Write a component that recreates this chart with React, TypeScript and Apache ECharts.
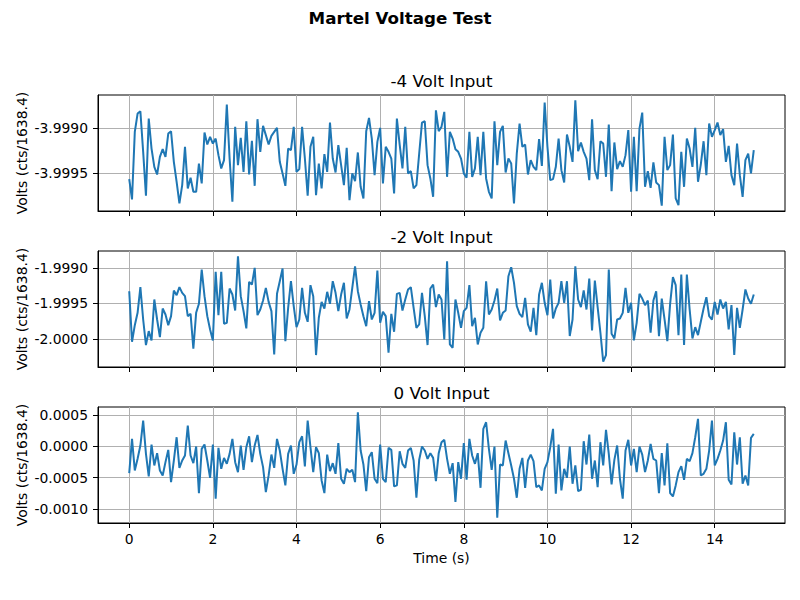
import React, { useEffect, useRef } from "react";
import * as echarts from "echarts";

const SAMPLE_RATE = 15; // samples per second

const volt4 = [
  -3.999571,-3.999799,-3.999041,-3.998836,-3.998810,-3.999265,-3.999757,-3.998892,-3.999228,-3.999433,
  -3.999519,-3.999321,-3.999235,-3.999321,-3.999060,-3.999034,-3.999377,-3.999601,-3.999843,-3.999638,
  -3.999209,-3.999675,-3.999556,-3.999713,-3.999713,-3.999396,-3.999619,-3.999049,-3.999183,-3.999097,
  -3.999172,-3.999116,-3.999302,-3.999451,-3.999358,-3.998735,-3.999340,-3.999825,-3.998985,-3.999414,
  -3.999108,-3.999489,-3.998922,-3.999519,-3.999142,-3.999646,-3.998899,-3.999265,-3.998974,-3.999078,
  -3.999183,-3.999086,-3.999041,-3.998996,-3.999377,-3.999507,-3.999646,-3.999228,-3.999246,-3.998985,
  -3.999489,-3.999459,-3.998985,-3.999340,-3.999757,-3.999209,-3.999097,-3.999750,-3.999396,-3.999675,
  -3.999291,-3.999489,-3.998937,-3.999340,-3.999496,-3.999190,
  -3.999414,-3.999638,-3.999220,-3.999806,-3.999507,-3.999593,-3.999272,-3.999657,-3.999787,-3.999034,
  -3.998884,-3.999116,-3.999526,-3.999153,-3.998996,-3.999619,-3.999209,-3.999265,-3.999340,-3.999731,
  -3.998892,-3.999183,-3.999451,-3.998985,-3.999507,-3.999481,-3.999675,-3.999638,-3.999284,-3.998937,
  -3.998922,-3.999414,-3.999563,-3.999769,-3.998799,-3.999034,-3.998985,-3.998817,-3.999545,-3.999041,
  -3.999116,-3.999235,-3.999265,-3.999340,-3.999507,-3.999556,-3.999041,-3.999545,-3.999451,-3.999097,
  -3.999526,-3.999041,-3.999563,-3.999713,-3.999787,-3.998922,-3.999414,-3.999041,-3.998974,-3.999496,
  -3.999340,-3.999396,-3.999843,-3.999284,-3.998948,-3.999209,-3.999183,-3.999519,-3.999358,-3.999433,
  -3.999470,-3.999123,-3.999422,-3.998713,-3.999209,-3.999582,-3.999571,-3.999433,-3.999116,
  -3.999470,-3.999608,-3.999071,-3.999209,-3.999377,-3.998687,-3.999257,-3.999160,-3.999265,-3.999340,
  -3.999582,-3.998899,-3.999470,-3.999571,-3.999146,-3.999172,-3.999545,-3.998959,-3.999705,-3.999160,
  -3.999459,-3.999369,-3.999433,-3.999302,-3.999022,-3.999713,-3.999097,-3.999705,-3.999004,-3.998825,
  -3.999657,-3.999481,-3.999668,-3.999384,-3.999608,-3.999638,-3.999869,-3.999097,-3.999470,-3.999414,
  -3.999071,-3.999787,-3.999862,-3.999265,-3.999657,-3.999116,-3.999228,-3.999433,-3.998996,-3.999601,
  -3.999407,-3.999146,-3.999526,-3.998948,-3.999097,-3.999022,-3.998937,-3.999078,-3.999011,-3.999377,
  -3.999198,-3.999526,-3.999638,-3.999172,-3.999526,-3.999769,-3.999358,-3.999284,-3.999507,-3.999246,
];

const volt2 = [
  -1.999329,-2.000042,-1.999808,-1.999634,-1.999272,-1.999728,-2.000089,-1.999892,-2.000023,-1.999446,
  -1.999728,-1.999977,-1.999573,-1.999657,-1.999808,-1.999681,-1.999319,-1.999385,-1.999272,-1.999352,
  -1.999399,-1.999681,-1.999648,-2.000141,-1.999634,-1.999507,-1.999023,-1.999399,-1.999681,-1.999869,
  -2.000023,-1.999056,-1.999667,-1.999056,-1.999789,-1.999775,-1.999291,-1.999376,-1.999601,-1.998836,
  -1.999399,-1.999610,-1.999854,-1.999197,-1.999235,-1.999000,-1.999667,-1.999587,-1.999460,-1.999282,
  -1.999479,-1.999610,-2.000221,-1.999366,-1.999188,-1.999009,-2.000033,-1.999563,-1.999188,-1.999540,
  -1.999836,-1.999728,-1.999282,-1.999634,-1.999761,-1.999244,-1.999399,-2.000230,-1.999704,-1.999479,
  -1.999573,-1.999338,-1.999507,-1.999188,-1.999352,-1.999610,
  -1.999376,-1.999211,-1.999714,-1.999587,-1.999282,-1.998977,-1.999329,-1.999516,-1.999681,-1.999822,
  -1.999469,-1.999728,-1.999634,-1.999038,-1.999775,-1.999620,-1.999681,-2.000197,-1.999648,-1.999901,
  -1.999366,-1.999352,-1.999601,-1.999446,-1.999305,-1.999272,-1.999563,-1.999845,-1.999798,-1.999352,
  -1.999681,-2.000089,-1.999291,-1.999235,-1.999554,-1.999376,-1.999446,-2.000009,-1.998906,-2.000080,
  -2.000127,-1.999446,-1.999634,-1.999845,-1.999610,-1.999563,-1.999244,-1.999822,-1.999704,-2.000080,
  -1.999915,-1.999845,-1.999188,-1.999657,-1.999587,-1.999460,-1.999291,-1.999742,-1.999634,-1.999601,
  -1.999117,-1.998991,-1.999211,-1.999540,-1.999648,-1.999695,-1.999423,-1.999798,-1.999901,-1.999563,
  -1.999948,-1.999376,-1.999211,-1.999493,-1.999667,-1.999164,-1.999714,-1.999573,-1.999493,
  -1.999188,-1.999493,-1.999188,-1.999962,-1.999728,-1.998977,-1.999446,-1.999554,-1.999319,-1.999587,
  -1.999150,-1.999883,-1.999178,-1.999554,-1.999915,-2.000324,-2.000230,-1.999023,-1.999930,-1.999995,
  -1.999728,-1.999714,-1.999634,-1.999282,-1.999634,-1.999493,-2.000023,-1.999775,-1.999366,-1.999432,
  -1.999526,-1.999460,-1.999915,-1.999460,-1.999329,-1.999962,-1.999432,-1.999728,-2.000033,-1.999507,
  -1.999131,-1.999244,-1.999948,-1.999094,-2.000089,-1.999094,-1.999587,-1.999995,-1.999836,-1.999948,
  -1.999761,-1.999573,-1.999413,-1.999681,-1.999728,-1.999479,-1.999657,-1.999446,-1.999573,-1.999479,
  -1.999869,-1.999526,-2.000230,-1.999563,-1.999845,-1.999587,-1.999305,-1.999432,-1.999507,-1.999376,
];

const volt0 = [
  -0.000429,0.000117,-0.000387,-0.000201,0.000011,0.000408,-0.000122,-0.000482,0.000027,-0.000307,
  -0.000111,-0.000387,-0.000466,-0.000254,-0.000058,-0.000572,-0.000228,0.000143,-0.000345,-0.000228,
  -0.000148,0.000329,-0.000148,-0.000270,-0.000005,-0.000747,-0.000042,0.000027,-0.000228,-0.000504,
  0.000027,-0.000837,-0.000027,-0.000360,-0.000186,-0.000281,-0.000122,0.000117,-0.000254,-0.000413,
  0.000011,-0.000376,-0.000016,0.000159,-0.000254,0.000011,0.000180,-0.000122,-0.000334,-0.000731,
  -0.000466,-0.000133,-0.000345,0.000117,-0.000069,-0.000360,-0.000625,-0.000122,0.000011,-0.000440,
  -0.000292,0.000064,0.000159,-0.000323,0.000408,-0.000016,-0.000413,-0.000016,-0.000111,-0.000546,
  -0.000747,-0.000133,-0.000398,-0.000270,-0.000440,0.000048,
  -0.000519,-0.000599,-0.000360,-0.000413,-0.000376,-0.000572,0.000541,-0.000069,-0.000292,-0.000716,
  -0.000175,-0.000095,-0.000519,-0.000588,0.000027,-0.000519,-0.000572,-0.000027,-0.000058,-0.000641,
  -0.000625,-0.000080,-0.000281,-0.000345,-0.000069,-0.000027,-0.000228,-0.000822,-0.000217,-0.000005,
  -0.000069,-0.000201,-0.000111,-0.000186,-0.000557,-0.000111,0.000064,0.000101,-0.000201,-0.000440,
  -0.000270,-0.000890,-0.000254,-0.000519,0.000048,-0.000535,0.000117,-0.000148,-0.000281,-0.000111,
  -0.000663,0.000276,0.000382,-0.000042,-0.000376,-0.000005,-0.001140,-0.000292,-0.000307,0.000090,
  -0.000111,-0.000307,-0.000519,-0.000822,-0.000360,-0.000186,-0.000663,-0.000228,-0.000133,-0.000239,
  -0.000652,-0.000625,-0.000705,-0.000360,-0.000254,-0.000016,0.000276,-0.000758,0.000027,
  -0.000705,-0.000360,-0.000504,-0.000005,-0.000599,-0.000307,-0.000716,-0.000694,0.000080,-0.000292,
  0.000186,-0.000519,-0.000228,-0.000652,0.000064,-0.000307,0.000260,-0.000122,-0.000610,-0.000217,
  0.000011,-0.000519,-0.000837,-0.000069,0.000101,-0.000307,-0.000042,-0.000413,-0.000005,-0.000133,
  -0.000413,-0.000228,0.000037,-0.000201,-0.000228,-0.000747,-0.000111,-0.000625,0.000048,-0.000747,
  -0.000800,-0.000625,-0.000413,-0.000318,-0.000535,-0.000201,-0.000239,-0.000111,0.000143,0.000435,
  -0.000466,-0.000440,-0.000360,-0.000069,0.000408,-0.000307,-0.000201,-0.000069,0.000090,0.000382,
  -0.000535,-0.000610,0.000223,-0.000292,0.000143,-0.000599,-0.000466,-0.000625,0.000133,0.000196,
];

const figureTitle = "Martel Voltage Test";
const panelTitles = ["-4 Volt Input", "-2 Volt Input", "0 Volt Input"];
const yAxisTitle = "Volts (cts/1638.4)";
const xAxisTitle = "Time (s)";
const xTicks = [0, 2, 4, 6, 8, 10, 12, 14];
const yTicks4 = [-3.9995, -3.999];
const yTicks2 = [-2.0, -1.9995, -1.999];
const yTicks0 = [-0.001, -0.0005, 0, 0.0005];

const FONT = "DejaVu Sans";
const LEFT = 98;
const WIDTH = 687;
const HEIGHT = 116;
const TOPS = [95, 251, 407];

function paddedRange(vals: number[], frac: number) {
  let lo = Infinity;
  let hi = -Infinity;
  for (const v of vals) {
    if (v < lo) lo = v;
    if (v > hi) hi = v;
  }
  const pad = (hi - lo) * frac;
  return [lo - pad, hi + pad];
}

export default function App() {
  const ref = useRef<HTMLDivElement>(null);

  useEffect(() => {
    if (!ref.current) return;
    const chart = echarts.init(ref.current, null, { renderer: "svg" });
    const time = volt4.map((_, i) => i / SAMPLE_RATE);
    const [xMin, xMax] = paddedRange(time, 0.05);
    const panels = [
      { vals: volt4, ticks: yTicks4 },
      { vals: volt2, ticks: yTicks2 },
      { vals: volt0, ticks: yTicks0 },
    ];

    const grid = TOPS.map((top) => ({
      left: LEFT,
      top,
      width: WIDTH,
      height: HEIGHT,
      show: true,
      borderColor: "#000",
      borderWidth: 1,
      backgroundColor: "transparent",
      containLabel: false,
    }));

    const xAxis = panels.map((_, k) => ({
      type: "value",
      gridIndex: k,
      min: xMin,
      max: xMax,
      axisLine: { show: true, onZero: false, lineStyle: { color: "#000", width: 1 } },
      axisTick: { show: true, length: 5, lineStyle: { color: "#000", width: 1 }, customValues: xTicks },
      axisLabel: {
        show: k === 2,
        customValues: xTicks,
        margin: 9,
        color: "#000",
        fontSize: 13.9,
        fontFamily: FONT,
        formatter: (v: number) => String(v),
      },
      splitLine: { show: true, lineStyle: { color: "#b0b0b0", width: 1 } },
    }));

    const yAxis = panels.map((p, k) => {
      const [lo, hi] = paddedRange(p.vals, 0.05);
      return {
        type: "value",
        gridIndex: k,
        min: lo,
        max: hi,
        axisLine: { show: true, onZero: false, lineStyle: { color: "#000", width: 1 } },
        axisTick: { show: true, length: 5, lineStyle: { color: "#000", width: 1 }, customValues: p.ticks },
        axisLabel: {
          show: true,
          customValues: p.ticks,
          margin: 10,
          color: "#000",
          fontSize: 13.9,
          fontFamily: FONT,
          formatter: (v: number) => v.toFixed(4),
        },
        splitLine: { show: true, lineStyle: { color: "#b0b0b0", width: 1 } },
      };
    });

    const series = panels.map((p, k) => ({
      type: "line",
      xAxisIndex: k,
      yAxisIndex: k,
      data: time.map((t, i) => [t, p.vals[i]]),
      showSymbol: false,
      symbol: "none",
      lineStyle: { color: "#1f77b4", width: 2 },
      z: 3,
    }));

    const texts: any[] = [
      {
        type: "text",
        x: 400,
        y: 18,
        style: {
          text: figureTitle,
          fontSize: 16.7,
          fontWeight: "bold",
          fontFamily: FONT,
          fill: "#000",
          align: "center",
          verticalAlign: "middle",
        },
      },
      {
        type: "text",
        x: LEFT + WIDTH / 2,
        y: 558,
        style: {
          text: xAxisTitle,
          fontSize: 13.9,
          fontFamily: FONT,
          fill: "#000",
          align: "center",
          verticalAlign: "middle",
        },
      },
    ];
    TOPS.forEach((top, k) => {
      texts.push({
        type: "text",
        x: LEFT + WIDTH / 2,
        y: top - 14,
        style: {
          text: panelTitles[k],
          fontSize: 16.7,
          fontFamily: FONT,
          fill: "#000",
          align: "center",
          verticalAlign: "middle",
        },
      });
      texts.push({
        type: "text",
        x: 22,
        y: top + HEIGHT / 2,
        rotation: Math.PI / 2,
        style: {
          text: yAxisTitle,
          fontSize: 13.9,
          fontFamily: FONT,
          fill: "#000",
          align: "center",
          verticalAlign: "middle",
        },
      });
    });

    chart.setOption({
      animation: false,
      backgroundColor: "#fff",
      textStyle: { fontFamily: FONT },
      grid,
      xAxis,
      yAxis,
      series,
      graphic: texts,
    } as any);

    return () => chart.dispose();
  }, []);

  return (
    <div
      ref={ref}
      style={{ position: "fixed", left: 0, top: 0, width: 800, height: 600 }}
    />
  );
}
